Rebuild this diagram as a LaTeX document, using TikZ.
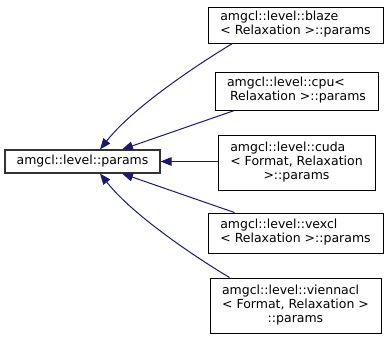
\documentclass[tikz,border=0pt]{standalone}
\usepackage{fontspec}
\setmainfont{DejaVu Sans}
\usetikzlibrary{arrows.meta,calc}

\definecolor{edgeblue}{HTML}{191970}

\tikzset{
  cls/.style={draw=black, fill=white, line width=0.9pt, inner sep=0pt,
              font=\fontsize{12.5}{14}\selectfont},
  inherit/.style={draw=edgeblue, line width=1pt,
                  -{Triangle[length=11pt,width=8.5pt]}},
}

\newcommand{\lines}[1]{\begin{tabular}{@{}l@{}}#1\end{tabular}}

\begin{document}
\begin{tikzpicture}[x=1pt,y=-1pt]
    \useasboundingbox (0,0) rectangle (389,339);

    \node [cls, draw=black!80, line width=1.1pt, minimum width=155pt, minimum height=23pt] (base) at (82.5,161.5) {amgcl::level::params};

    \node [cls, minimum width=175pt, minimum height=36pt] (blaze) at (295.5,25)
        {\lines{amgcl::level::blaze\\< Relaxation >::params}};
    \node [cls, minimum width=163pt, minimum height=38pt] (cpu) at (296.5,91)
        {\lines{amgcl::level::cpu<\\\hspace{3pt}Relaxation >::params}};
    \node [cls, minimum width=157pt, minimum height=55pt] (cuda) at (296.5,162.5)
        {\lines{amgcl::level::cuda\\< Format, Relaxation\\\multicolumn{1}{@{}c@{}}{>::params}}};
    \node [cls, minimum width=175pt, minimum height=40pt] (vexcl) at (295.5,233)
        {\lines{amgcl::level::vexcl\\< Relaxation >::params}};
    \node [cls, minimum width=171pt, minimum height=55pt] (viennacl) at (295.5,305.5)
        {\lines{amgcl::level::viennacl\\< Format, Relaxation >\\\multicolumn{1}{@{}c@{}}{::params}}};

    % derived classes point back to the base
    \draw [inherit] ($(blaze.south west)+(25,0)$) .. controls (205,60) and (135,105) .. ($(base.north)+(17.5,0)$);
    \draw [inherit] ($(cpu.south west)+(20,0)$) -- ($(base.north)+(39.5,0)$);
    \draw [inherit] (base.east -| cuda.west) -- (base.east);
    \draw [inherit] ($(vexcl.north west)+(27,0)$) -- ($(base.south)+(39.5,0)$);
    \draw [inherit] ($(viennacl.north west)+(20,0)$) .. controls (205,263) and (135,218) .. ($(base.south)+(17.5,0)$);
\end{tikzpicture}
\end{document}
